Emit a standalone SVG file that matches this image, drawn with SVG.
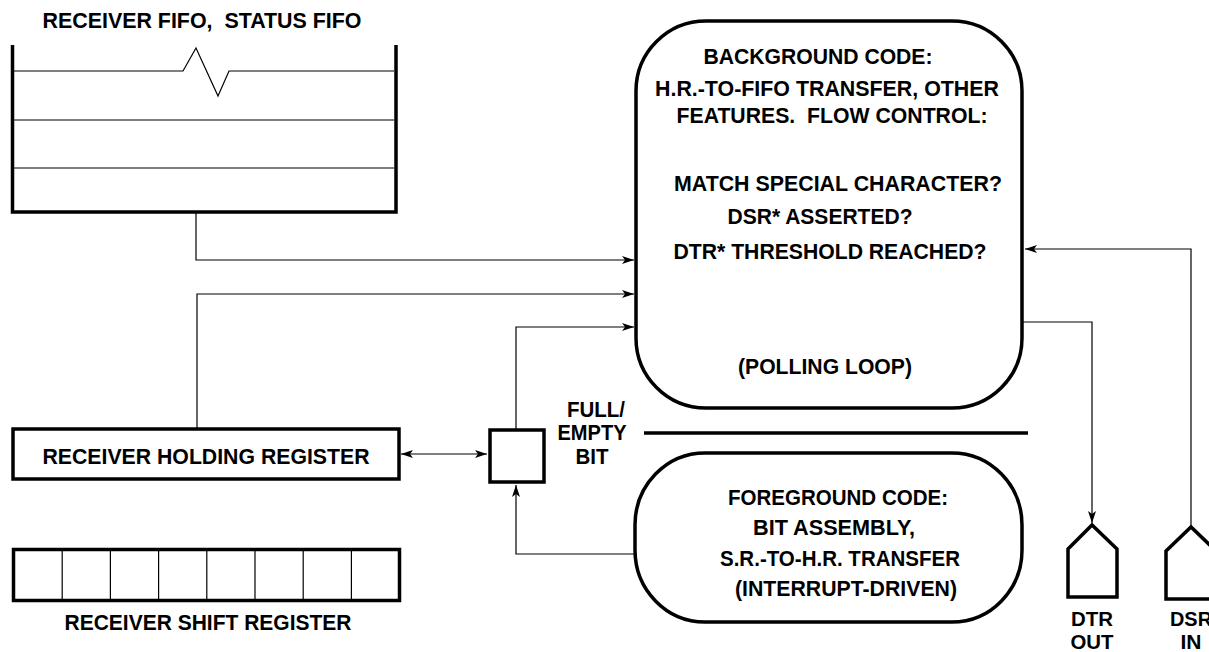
<svg xmlns="http://www.w3.org/2000/svg" width="1209" height="652" viewBox="0 0 1209 652">
<defs>
<style>
text{font-family:"Liberation Sans",Arial,Helvetica,sans-serif;font-weight:bold;font-size:22px;fill:#000;text-anchor:middle;white-space:pre}
text.port{font-size:20px}
.thick{fill:none;stroke:#000;stroke-width:3.5}
.thin{fill:none;stroke:#000;stroke-width:1.2}
.conn{fill:none;stroke:#000;stroke-width:1.2}
</style>
<marker id="ah" viewBox="0 0 12 8" refX="12" refY="4" markerWidth="12" markerHeight="8" markerUnits="userSpaceOnUse" orient="auto-start-reverse">
<path d="M0,0 L12,4 L0,8 L3,4 Z" fill="#000"/>
</marker>
</defs>
<rect width="1209" height="652" fill="#fff"/>

<g id="fifo">
<text x="202" y="28" textLength="319" lengthAdjust="spacingAndGlyphs">RECEIVER FIFO,  STATUS FIFO</text>
<path class="thick" d="M12.5,45 V212 H396 V45"/>
<path class="thin" d="M14,71 H183 L196,48 L218,96 L229,71 H394"/>
<line class="thin" x1="14" y1="120" x2="394" y2="120"/>
<line class="thin" x1="14" y1="168" x2="394" y2="168"/>
</g>

<g id="background">
<rect class="thick" x="636" y="21" width="386" height="387" rx="70" ry="70"/>
<text x="818" y="64" textLength="229" lengthAdjust="spacingAndGlyphs">BACKGROUND CODE:</text>
<text x="827" y="96" textLength="344" lengthAdjust="spacingAndGlyphs">H.R.-TO-FIFO TRANSFER, OTHER</text>
<text x="832" y="123" textLength="311" lengthAdjust="spacingAndGlyphs">FEATURES.  FLOW CONTROL:</text>
<text x="838" y="191" textLength="328" lengthAdjust="spacingAndGlyphs">MATCH SPECIAL CHARACTER?</text>
<text x="820" y="224" textLength="185" lengthAdjust="spacingAndGlyphs">DSR* ASSERTED?</text>
<text x="830" y="259" textLength="313" lengthAdjust="spacingAndGlyphs">DTR* THRESHOLD REACHED?</text>
<text x="825" y="374" textLength="174" lengthAdjust="spacingAndGlyphs">(POLLING LOOP)</text>
</g>

<g id="holding-register">
<rect class="thick" x="13" y="429" width="386" height="50"/>
<text x="206" y="464" textLength="327" lengthAdjust="spacingAndGlyphs">RECEIVER HOLDING REGISTER</text>
</g>

<g id="shift-register">
<rect class="thick" x="13.5" y="549.5" width="386" height="51"/>
<path class="thin" d="M62.2,551 V599 M110.4,551 V599 M158.6,551 V599 M206.8,551 V599 M255,551 V599 M303.2,551 V599 M351.4,551 V599"/>
<text x="208" y="630" textLength="287" lengthAdjust="spacingAndGlyphs">RECEIVER SHIFT REGISTER</text>
</g>

<g id="full-empty-bit">
<rect class="thick" x="490" y="430" width="54" height="52"/>
<text x="596" y="417" textLength="58" lengthAdjust="spacingAndGlyphs">FULL/</text>
<text x="592" y="440" textLength="69" lengthAdjust="spacingAndGlyphs">EMPTY</text>
<text x="592" y="464" textLength="33" lengthAdjust="spacingAndGlyphs">BIT</text>
</g>

<g id="divider">
<line x1="644" y1="433" x2="1028" y2="433" stroke="#000" stroke-width="3.5"/>
</g>

<g id="foreground">
<rect class="thick" x="635" y="453" width="387" height="169" rx="70" ry="72"/>
<text x="838" y="505" textLength="220" lengthAdjust="spacingAndGlyphs">FOREGROUND CODE:</text>
<text x="834" y="535" textLength="162" lengthAdjust="spacingAndGlyphs">BIT ASSEMBLY,</text>
<text x="840" y="566" textLength="240" lengthAdjust="spacingAndGlyphs">S.R.-TO-H.R. TRANSFER</text>
<text x="846" y="596" textLength="222" lengthAdjust="spacingAndGlyphs">(INTERRUPT-DRIVEN)</text>
</g>

<g id="dtr-out">
<path class="thick" d="M1068,597 V549 L1092,525 L1117,549 V597 Z"/>
<text class="port" x="1092" y="626" textLength="42" lengthAdjust="spacingAndGlyphs">DTR</text>
<text class="port" x="1092" y="649" textLength="43" lengthAdjust="spacingAndGlyphs">OUT</text>
</g>

<g id="dsr-in">
<path class="thick" d="M1166,599 V551 L1191,527 L1216,551 V599 Z"/>
<text class="port" x="1191" y="626" textLength="42" lengthAdjust="spacingAndGlyphs">DSR</text>
<text class="port" x="1191" y="649" textLength="21" lengthAdjust="spacingAndGlyphs">IN</text>
</g>

<g id="connectors">
<path class="conn" d="M196,213 V260 H634" marker-end="url(#ah)"/>
<path class="conn" d="M197,428 V294 H634" marker-end="url(#ah)"/>
<path class="conn" d="M516,429 V327 H634" marker-end="url(#ah)"/>
<path class="conn" d="M401,454 H487" marker-start="url(#ah)" marker-end="url(#ah)"/>
<path class="conn" d="M635,554 H516 V485" marker-end="url(#ah)"/>
<path class="conn" d="M1023,322 H1092 V523" marker-end="url(#ah)"/>
<path class="conn" d="M1191,526 V249 H1025" marker-end="url(#ah)"/>
</g>
</svg>
